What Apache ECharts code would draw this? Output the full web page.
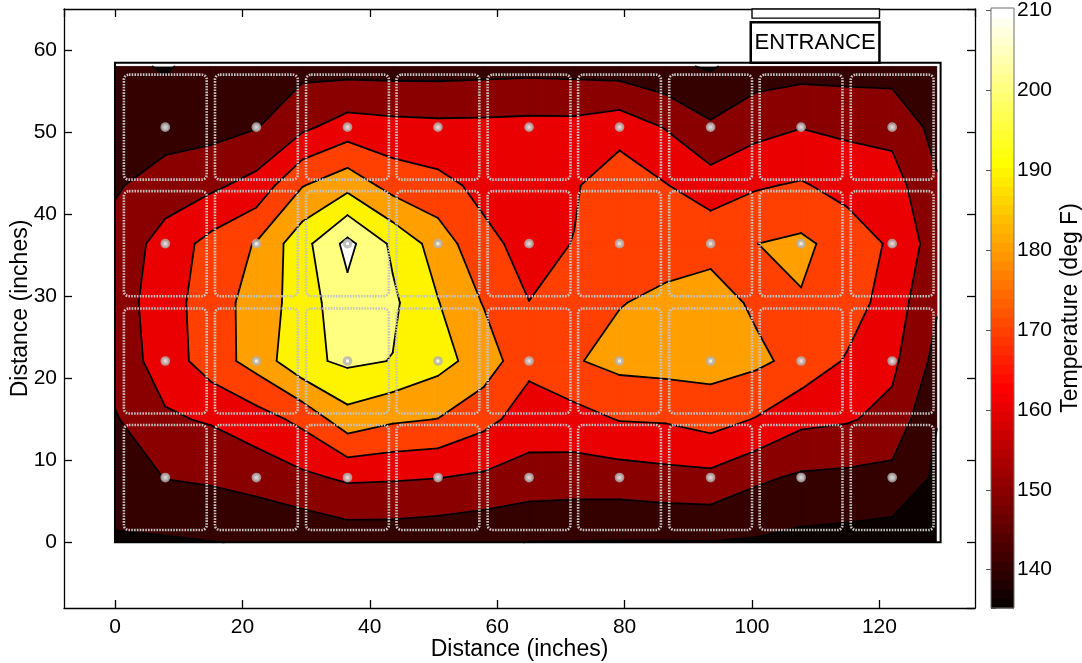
<!DOCTYPE html>
<html>
<head>
<meta charset="utf-8">
<script src="https://cdn.jsdelivr.net/npm/echarts@6/dist/echarts.min.js"></script>
<style>
  html, body { margin: 0; padding: 0; background: #ffffff; }
  #chart { width: 1082px; height: 663px; }
</style>
</head>
<body>
<div id="chart"></div>
<script>
// Measurement grid node positions (inches)
const xNodes = [0, 7.9, 15.1, 22.2, 29.4, 36.5, 43.6, 50.7, 57.9, 65, 72.1, 79.2, 86.4, 93.5, 100.6, 107.7, 114.9, 122, 129];
const yNodes = [0, 7.9, 15, 22.1, 29.2, 36.4, 43.5, 50.6, 58];

// Temperature (deg F) at every node, one row per yNode from bottom to top
const tempRow0 = [139.1, 138.8, 139.8, 140.5, 141.5, 143.9, 144, 143, 141.5, 139.8, 139.7, 139.5, 139.5, 139.7, 139, 137.3, 136.6, 135.5, 135];
const tempRow1 = [144, 150.3, 151.5, 154, 158, 161.5, 161, 160.2, 158.5, 156, 155.2, 155.3, 156.8, 157.4, 151.8, 148.5, 147.8, 147, 138.5];
const tempRow2 = [149.1, 158.7, 161, 165.7, 172.5, 186, 181.5, 179.8, 173, 165.3, 166.2, 170.5, 171, 174, 169.5, 162.5, 161, 157, 140.3];
const tempRow3 = [154, 164.7, 175, 184, 197.6, 201.9, 199.7, 193.5, 185.6, 172.5, 179.2, 183, 184, 184, 182, 177, 169, 162.3, 147];
const tempRow4 = [155, 165.6, 175.2, 184.1, 194.7, 207, 201.8, 190.4, 179.4, 170.1, 175, 179.6, 182, 184, 178.5, 179.3, 175, 165.3, 151];
const tempRow5 = [153, 164.3, 173.2, 180.7, 196.4, 212.8, 198.1, 185.6, 172.4, 167, 170.3, 176.2, 176.1, 177, 179.9, 182, 176, 168.4, 155];
const tempRow6 = [149, 154.3, 158, 163.5, 179.5, 186.7, 176.2, 172.9, 167.5, 165, 169, 176, 170.5, 164.6, 169, 171, 166.5, 164.4, 151];
const tempRow7 = [145.5, 146, 146.5, 149.5, 158, 164.5, 163, 162.4, 162.5, 163, 163, 166, 159.5, 151.5, 156.7, 159.7, 158, 156.9, 147];
const tempRow8 = [143, 139, 144, 146, 147, 146, 146, 146, 146.5, 147, 146.5, 145, 142, 139, 145, 146, 146, 146, 142];
const temps = [tempRow0, tempRow1, tempRow2, tempRow3, tempRow4, tempRow5, tempRow6, tempRow7, tempRow8];

// Sensor (thermocouple) locations
const sensorX = [7.9, 22.2, 36.5, 50.7, 65, 79.2, 93.5, 107.7, 122];
const sensorY = [7.9, 22.1, 36.4, 50.6];

// Contour levels and colour scale limits (deg F)
const levels = [140, 150, 160, 170, 180, 190, 200, 210];
const colorRange = [135.2, 210.3];

const FONT = "'Liberation Sans', Arial, Helvetica, sans-serif";
const nx = xNodes.length, ny = yNodes.length;

// MATLAB-style 64 entry "hot" colormap lookup
function hotEntry(idx) {
  const r = Math.min(idx / 24, 1);
  const g = Math.max(0, Math.min((idx - 24) / 24, 1));
  const b = Math.max(0, Math.min((idx - 48) / 16, 1));
  return 'rgb(' + Math.round(r * 255) + ',' + Math.round(g * 255) + ',' + Math.round(b * 255) + ')';
}
function hotColor(v) {
  let idx = Math.floor((v - colorRange[0]) / (colorRange[1] - colorRange[0]) * 64) + 1;
  idx = Math.max(1, Math.min(64, idx));
  return hotEntry(idx);
}
const dataMin = Math.min.apply(null, temps.map(r => Math.min.apply(null, r)));
const bandColors = [hotColor(dataMin)].concat(levels.map(hotColor));

// Region of one grid cell where temperature >= L (perimeter walk), with crossing flags
function cellRegion(i, j, L) {
  const c = [
    [xNodes[i], yNodes[j], temps[j][i]],
    [xNodes[i + 1], yNodes[j], temps[j][i + 1]],
    [xNodes[i + 1], yNodes[j + 1], temps[j + 1][i + 1]],
    [xNodes[i], yNodes[j + 1], temps[j + 1][i]]
  ];
  const pts = [], cross = [];
  for (let e = 0; e < 4; e++) {
    const a = c[e], b = c[(e + 1) % 4];
    const aIn = a[2] >= L, bIn = b[2] >= L;
    if (aIn) { pts.push([a[0], a[1]]); cross.push(false); }
    if (aIn !== bIn) {
      const t = (L - a[2]) / (b[2] - a[2]);
      pts.push([a[0] + t * (b[0] - a[0]), a[1] + t * (b[1] - a[1])]);
      cross.push(true);
    }
  }
  return { pts, cross };
}

function renderFill(params, api) {
  const k = api.value(0);
  const children = [];
  if (k === 0) {
    const p0 = api.coord([xNodes[0], yNodes[0]]);
    const p1 = api.coord([xNodes[nx - 1], yNodes[ny - 1]]);
    children.push({ type: 'rect', shape: { x: p0[0], y: p1[1], width: p1[0] - p0[0], height: p0[1] - p1[1] },
      style: { fill: bandColors[0] } });
  } else {
    const L = levels[k - 1], col = bandColors[k];
    for (let j = 0; j < ny - 1; j++) {
      for (let i = 0; i < nx - 1; i++) {
        const r = cellRegion(i, j, L);
        if (r.pts.length < 3) continue;
        children.push({ type: 'polygon', shape: { points: r.pts.map(p => api.coord(p)) },
          style: { fill: col, stroke: col, lineWidth: 0.7 } });
      }
    }
  }
  return { type: 'group', children };
}

function renderLines(params, api) {
  const L = levels[api.value(0)];
  const children = [];
  for (let j = 0; j < ny - 1; j++) {
    for (let i = 0; i < nx - 1; i++) {
      const r = cellRegion(i, j, L);
      const n = r.pts.length;
      for (let q = 0; q < n; q++) {
        const q2 = (q + 1) % n;
        if (r.cross[q] && r.cross[q2]) {
          const a = api.coord(r.pts[q]), b = api.coord(r.pts[q2]);
          children.push({ type: 'line', shape: { x1: a[0], y1: a[1], x2: b[0], y2: b[1] },
            style: { stroke: '#000', lineWidth: 1.8, lineCap: 'round' } });
        }
      }
    }
  }
  return { type: 'group', children };
}

// Sensor tiles (dotted rounded squares) and marker list
const sensorPoints = [];
sensorY.forEach(y => sensorX.forEach(x => sensorPoints.push([x, y])));

function renderTile(params, api) {
  const x = api.value(0), y = api.value(1);
  const a = api.coord([x - 6.5, y + 6.4]);
  const b = api.coord([x + 6.5, y - 6.4]);
  return { type: 'rect', shape: { x: a[0], y: a[1], width: b[0] - a[0], height: b[1] - a[1], r: 5 },
    style: { fill: 'none', stroke: '#c4c4c4', lineWidth: 2.6, lineDash: [1.6, 1.2] } };
}

function renderFrame(params, api) {
  const a = api.coord([0, 58.45]);
  const b = api.coord([129.6, 0]);
  return { type: 'rect', shape: { x: a[0], y: a[1], width: b[0] - a[0], height: b[1] - a[1] },
    style: { fill: 'none', stroke: '#000', lineWidth: 2 } };
}

function renderEntrance(params, api) {
  const d0 = api.coord([100, 65]), d1 = api.coord([120, 63.9]);
  const a = api.coord([99.8, 63.4]), b = api.coord([120, 58.45]);
  return { type: 'group', children: [
    { type: 'rect', shape: { x: d0[0], y: d0[1], width: d1[0] - d0[0], height: d1[1] - d0[1] },
      style: { fill: '#fff', stroke: '#000', lineWidth: 1.3 } },
    { type: 'rect', shape: { x: a[0], y: a[1], width: b[0] - a[0], height: b[1] - a[1] },
      style: { fill: '#fff', stroke: '#000', lineWidth: 2.5 } },
    { type: 'text', style: { text: 'ENTRANCE', x: (a[0] + b[0]) / 2, y: (a[1] + b[1]) / 2 + 1,
      align: 'center', verticalAlign: 'middle', font: '22px ' + FONT, fill: '#000' } }
  ] };
}

// Colour bar strips
const barSteps = [];
for (let i = 0; i < 64; i++) barSteps.push([i, 0]);
function renderBar(params, api) {
  const i = api.value(0);
  const step = (colorRange[1] - colorRange[0]) / 64;
  const a = api.coord([0, colorRange[0] + (i + 1) * step]);
  const b = api.coord([1, colorRange[0] + i * step]);
  return { type: 'rect', shape: { x: a[0], y: a[1] - 0.5, width: b[0] - a[0], height: b[1] - a[1] + 1 },
    style: { fill: hotEntry(i + 1) } };
}
function renderBarBorder(params, api) {
  const a = api.coord([0, colorRange[1]]), b = api.coord([1, colorRange[0]]);
  return { type: 'rect', shape: { x: a[0], y: a[1], width: b[0] - a[0], height: b[1] - a[1] },
    style: { fill: 'none', stroke: '#6e6e6e', lineWidth: 1 } };
}

const axisText = { color: '#000', fontSize: 21, fontFamily: FONT };
const titleText = { color: '#000', fontSize: 23, fontFamily: FONT };
const mainX = {
  type: 'value', gridIndex: 0, min: -8, max: 135, splitNumber: 7,
  axisLine: { onZero: false, lineStyle: { color: '#000', width: 1.3 } },
  axisTick: { inside: true, length: 8, lineStyle: { color: '#000', width: 1.3 } },
  splitLine: { show: false }
};
const mainY = {
  type: 'value', gridIndex: 0, min: -8, max: 65, splitNumber: 7,
  axisLine: { onZero: false, lineStyle: { color: '#000', width: 1.3 } },
  axisTick: { inside: true, length: 8, lineStyle: { color: '#000', width: 1.3 } },
  splitLine: { show: false }
};

const option = {
  animation: false,
  backgroundColor: '#fff',
  grid: [
    { left: 64, top: 9, width: 911, height: 599, containLabel: false, outerBoundsMode: 'none' },
    { left: 991, top: 8, width: 23, height: 600, containLabel: false, outerBoundsMode: 'none' }
  ],
  xAxis: [
    Object.assign({}, mainX, { position: 'bottom',
      axisLabel: Object.assign({ margin: 9, showMinLabel: false, showMaxLabel: false }, axisText),
      name: 'Distance (inches)', nameLocation: 'middle', nameGap: 30, nameMoveOverlap: false,
      nameTextStyle: titleText }),
    Object.assign({}, mainX, { position: 'top', axisLabel: { show: false } }),
    { type: 'value', gridIndex: 1, min: 0, max: 1, show: false }
  ],
  yAxis: [
    Object.assign({}, mainY, { position: 'left',
      axisLabel: Object.assign({ margin: 7, showMinLabel: false, showMaxLabel: false }, axisText),
      name: 'Distance (inches)', nameLocation: 'middle', nameGap: 32, nameRotate: 90, nameMoveOverlap: false,
      nameTextStyle: titleText }),
    Object.assign({}, mainY, { position: 'right', axisLabel: { show: false } }),
    { type: 'value', gridIndex: 1, position: 'right', min: colorRange[0], max: colorRange[1], splitNumber: 8,
      axisLine: { show: false },
      axisTick: { inside: true, length: 5, lineStyle: { color: '#555', width: 1 } },
      axisLabel: Object.assign({ margin: 3, showMinLabel: false, showMaxLabel: false }, axisText),
      splitLine: { show: false },
      name: 'Temperature (deg F)', nameLocation: 'middle', nameGap: 45, nameRotate: 90, nameMoveOverlap: false,
      nameTextStyle: titleText },
    { type: 'value', gridIndex: 1, position: 'left', min: colorRange[0], max: colorRange[1], splitNumber: 8,
      axisLine: { show: false },
      axisTick: { inside: true, length: 5, lineStyle: { color: '#555', width: 1 } },
      axisLabel: { show: false }, splitLine: { show: false } }
  ],
  series: [
    { type: 'custom', name: 'fill', xAxisIndex: 0, yAxisIndex: 0, renderItem: renderFill,
      data: bandColors.map((c, k) => [k, 0]), silent: true },
    { type: 'custom', name: 'isolines', xAxisIndex: 0, yAxisIndex: 0, renderItem: renderLines,
      data: levels.map((l, k) => [k, 0]), silent: true },
    { type: 'custom', name: 'frame', xAxisIndex: 0, yAxisIndex: 0, renderItem: renderFrame,
      data: [[0, 0]], silent: true },
    { type: 'custom', name: 'tiles', xAxisIndex: 0, yAxisIndex: 0, renderItem: renderTile,
      data: sensorPoints, silent: true },
    { type: 'scatter', name: 'sensors', xAxisIndex: 0, yAxisIndex: 0, data: sensorPoints,
      symbol: 'circle', symbolSize: 6.5,
      itemStyle: { color: '#ffffff', borderColor: '#b0b0b0', borderWidth: 3.2 }, silent: true },
    { type: 'custom', name: 'entrance', xAxisIndex: 0, yAxisIndex: 0, renderItem: renderEntrance,
      data: [[110, 60]], silent: true },
    { type: 'custom', name: 'colorbar', xAxisIndex: 2, yAxisIndex: 2, renderItem: renderBar,
      data: barSteps, silent: true },
    { type: 'custom', name: 'colorbarBorder', xAxisIndex: 2, yAxisIndex: 2, renderItem: renderBarBorder,
      data: [[0, colorRange[0]]], silent: true, z: 3 }
  ]
};

const chart = echarts.init(document.getElementById('chart'), null, { renderer: 'canvas' });
chart.setOption(option);
</script>
</body>
</html>
